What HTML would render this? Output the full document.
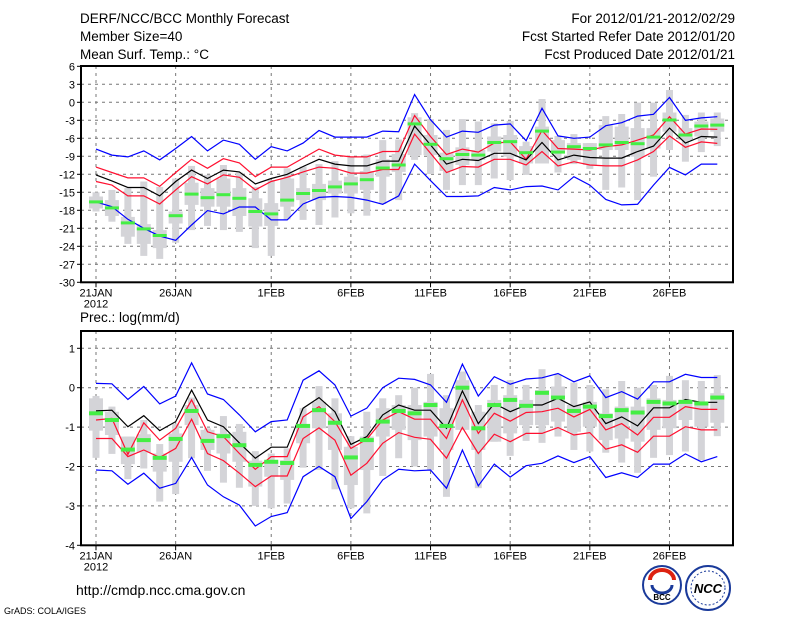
<!DOCTYPE html>
<html><head><meta charset="utf-8"><style>
html,body{margin:0;padding:0;background:#fff;width:800px;height:618px;overflow:hidden}
svg{display:block}
text{font-family:"Liberation Sans",sans-serif;fill:#000}
</style></head><body>
<svg id="chart" width="800" height="618" viewBox="0 0 800 618" xmlns="http://www.w3.org/2000/svg">
<text x="80" y="23" font-size="13.5">DERF/NCC/BCC Monthly Forecast</text>
<text x="80" y="41" font-size="13.5">Member Size=40</text>
<text x="80" y="59" font-size="13.5">Mean Surf. Temp.: °C</text>
<text x="735" y="23" font-size="13.5" text-anchor="end">For 2012/01/21-2012/02/29</text>
<text x="735" y="41" font-size="13.5" text-anchor="end">Fcst Started Refer Date 2012/01/20</text>
<text x="735" y="59" font-size="13.5" text-anchor="end">Fcst Produced Date 2012/01/21</text>
<text x="80" y="322" font-size="13.5">Prec.: log(mm/d)</text>
<text x="76" y="595" font-size="14">http://cmdp.ncc.cma.gov.cn</text>
<text x="4" y="614" font-size="9">GrADS: COLA/IGES</text>
<g>
<circle cx="662" cy="585" r="19" fill="#fff" stroke="#1a3a9a" stroke-width="2"/>
<path d="M650 580 a12 10 0 0 1 24 0" fill="none" stroke="#d21" stroke-width="4"/>
<path d="M652 585 a10 8 0 0 0 20 0" fill="none" stroke="#1a3a9a" stroke-width="3"/>
<text x="662" y="600" font-size="8" text-anchor="middle" font-weight="bold" fill="#1a3a9a">BCC</text>
</g>
<g>
<circle cx="708" cy="588" r="22" fill="#fff" stroke="#1a3a9a" stroke-width="2"/>
<ellipse cx="708" cy="588" rx="17" ry="17" fill="none" stroke="#1a3a9a" stroke-width="1" stroke-dasharray="2 2"/>
<text x="708" y="593" font-size="13" text-anchor="middle" font-style="italic" font-weight="bold" fill="#1a3a9a">NCC</text>
</g>
<g id="plots"></g>
</svg>
<script>
// ---- Temperature panel data (°C), days 0..39 from 21 Jan 2012 ----
const dayLabels = ["21JAN","26JAN","1FEB","6FEB","11FEB","16FEB","21FEB","26FEB"];
const dayLabelIdx = [0,5,11,16,21,26,31,36];
const tTicks = [6,3,0,-3,-6,-9,-12,-15,-18,-21,-24,-27,-30];
const tBlueHi = [-7.8,-8.8,-9.1,-8.1,-9.6,-7.7,-5.7,-8.1,-6.3,-7.0,-9.5,-7.4,-8.1,-6.8,-4.7,-5.8,-5.8,-5.8,-4.8,-4.9,1.3,-2.9,-5.8,-4.8,-5.0,-3.8,-3.6,-6.4,-1.0,-5.6,-6.0,-5.8,-3.9,-3.4,-2.3,-2.0,0.8,-3.0,-2.6,-2.4];
const tRedHi = [-10.8,-11.7,-12.6,-12.6,-14.0,-11.7,-9.5,-11.0,-9.4,-10.1,-12.4,-10.8,-10.8,-9.3,-7.8,-8.8,-9.1,-9.1,-8.2,-8.2,-2.2,-5.7,-8.7,-7.8,-8.3,-6.8,-6.6,-9.5,-4.7,-7.7,-7.8,-7.95,-7.4,-7.1,-6.3,-5.45,-2.4,-5.3,-4.45,-4.5];
const tMean = [-12.1,-13.1,-14.2,-14.2,-15.6,-13.2,-11.3,-12.7,-11.3,-11.6,-13.6,-12.7,-12.0,-10.7,-9.5,-10.3,-10.6,-10.6,-9.8,-9.8,-3.95,-7.1,-10.3,-9.5,-9.7,-8.5,-8.5,-9.6,-6.7,-9.6,-8.8,-9.2,-9.3,-9.3,-8.2,-7.3,-4.3,-6.8,-5.7,-5.8];
const tRedLo = [-13.2,-13.8,-15.6,-15.6,-16.95,-14.6,-12.4,-13.6,-12.1,-12.5,-14.6,-13.2,-12.5,-11.6,-10.8,-11.0,-11.8,-11.8,-11.2,-11.2,-5.3,-8.5,-11.7,-10.7,-10.8,-9.5,-9.5,-10.45,-8.2,-10.6,-9.9,-10.45,-10.6,-10.6,-9.6,-8.2,-5.6,-7.5,-6.6,-6.85];
const tBlueLo = [-16.6,-17.4,-19.5,-21.0,-22.3,-23.0,-20.45,-18.05,-18.6,-17.45,-17.45,-19.6,-19.6,-16.95,-15.85,-15.7,-15.85,-16.3,-17.0,-15.6,-10.3,-13.05,-15.7,-15.7,-15.6,-14.2,-14.6,-14.05,-13.95,-14.6,-12.4,-13.8,-16.2,-17.1,-17.0,-13.8,-10.85,-12.1,-10.3,-10.3];
const tMax = [-15.0,-14.6,-14.3,-13.2,-14.1,-12.7,-10.6,-12.1,-10.45,-11.7,-14.1,-12.95,-11.0,-10.7,-10.3,-9.8,-9.06,-8.7,-6.3,-6.2,-1.8,-2.8,-4.6,-2.8,-3.2,-3.5,-3.1,-6.56,0.55,-5.6,-5.3,-6.8,-2.3,-1.95,-0.06,-0.06,2.05,-2.1,-1.7,-1.7];
const tQ3 = [-15.7,-16.3,-19.1,-20.3,-21.3,-18.2,-13.4,-14.3,-12.7,-14.3,-16.0,-16.8,-12.7,-14.3,-13.6,-13.05,-12.4,-11.45,-9.5,-8.6,-2.5,-5.45,-8.4,-7.5,-7.95,-5.7,-5.45,-7.3,-4.05,-6.3,-6.8,-6.8,-3.8,-4.05,-4.3,-4.3,-1.7,-4.3,-3.2,-2.7];
const tQ1 = [-17.7,-18.95,-22.4,-23.6,-24.3,-20.2,-17.1,-17.4,-17.4,-18.95,-20.7,-20.6,-17.4,-16.3,-16.3,-15.2,-15.2,-14.6,-12.4,-11.6,-8.8,-8.8,-11.45,-10.45,-9.6,-8.2,-9.06,-10.2,-10.2,-8.2,-9.6,-10.45,-7.95,-7.95,-9.06,-7.7,-4.9,-6.3,-5.7,-4.9];
const tMin = [-18.2,-19.9,-23.6,-25.6,-26.1,-23.4,-21.3,-20.6,-21.3,-21.6,-24.3,-25.6,-19.5,-19.6,-20.45,-19.2,-18.5,-18.9,-16.95,-16.3,-9.6,-11.95,-14.6,-13.8,-13.8,-12.7,-12.95,-12.1,-10.2,-11.7,-10.3,-11.1,-14.6,-14.2,-16.3,-12.4,-7.95,-9.9,-8.3,-7.3];
const tObs = [-16.6,-17.6,-20.1,-21.1,-22.2,-18.9,-15.3,-15.9,-15.4,-16.0,-18.2,-18.6,-16.3,-15.2,-14.7,-14.1,-13.6,-12.9,-10.95,-10.45,-3.6,-7.0,-9.4,-8.7,-8.8,-6.7,-6.56,-8.4,-4.8,-8.3,-7.4,-7.7,-7.1,-6.7,-6.9,-5.8,-2.95,-5.45,-3.95,-3.8];
// ---- Precipitation panel data (log mm/d) ----
const pTicks = [1,0,-1,-2,-3,-4];
const pBlueHi = [0.11,0.10,-0.30,0.03,-0.41,-0.21,0.63,-0.16,-0.30,-0.69,-1.12,-0.86,-0.82,0.19,0.43,0.07,-0.72,-0.52,0.00,0.24,0.21,0.07,-0.37,0.60,-0.21,0.28,0.09,0.22,0.25,0.36,0.15,0.30,-0.25,-0.10,-0.29,0.15,0.15,0.34,0.26,0.26];
const pRedHi = [-0.82,-0.78,-1.69,-0.89,-1.33,-1.03,-0.31,-1.12,-1.24,-1.67,-2.07,-1.75,-1.75,-0.74,-0.48,-0.86,-1.54,-1.31,-0.82,-0.61,-0.80,-0.80,-1.29,-0.31,-1.16,-0.65,-0.85,-0.63,-0.61,-0.52,-0.74,-0.55,-1.07,-0.91,-1.20,-0.75,-0.75,-0.48,-0.55,-0.55];
const pMean = [-0.59,-0.57,-0.99,-0.71,-1.09,-0.86,-0.06,-0.82,-0.99,-1.40,-1.79,-1.51,-1.51,-0.52,-0.25,-0.61,-1.44,-1.24,-0.69,-0.44,-0.57,-0.57,-1.03,-0.08,-0.91,-0.40,-0.61,-0.44,-0.44,-0.27,-0.48,-0.36,-0.91,-0.74,-0.97,-0.51,-0.51,-0.30,-0.37,-0.37];
const pRedLo = [-1.29,-1.29,-1.75,-1.58,-1.77,-1.54,-0.80,-1.67,-1.85,-2.17,-2.51,-2.24,-2.24,-1.29,-1.02,-1.33,-2.22,-1.92,-1.41,-1.14,-1.26,-1.31,-1.79,-1.01,-1.67,-1.18,-1.37,-1.16,-1.16,-1.01,-1.20,-1.14,-1.56,-1.45,-1.64,-1.23,-1.23,-0.99,-1.07,-1.07];
const pBlueLo = [-2.09,-2.11,-2.45,-2.17,-2.55,-2.43,-1.77,-2.47,-2.77,-2.98,-3.51,-3.27,-3.17,-2.26,-2.00,-2.26,-3.32,-2.89,-2.34,-2.07,-2.11,-2.09,-2.55,-1.58,-2.49,-1.94,-2.27,-1.98,-1.92,-1.73,-1.90,-1.75,-2.28,-2.16,-2.28,-1.94,-1.94,-1.68,-1.88,-1.75];
const pMax = [-0.21,-0.48,-1.24,-0.82,-1.43,-0.91,-0.25,-1.03,-0.72,-0.92,-1.61,-1.67,-1.54,-0.52,0.04,-0.27,-1.23,-0.61,-0.27,-0.19,0.00,0.35,-0.19,0.41,-0.44,0.07,0.19,0.07,0.47,0.34,0.13,0.07,-0.04,0.17,0.00,0.07,0.30,0.19,0.17,0.32];
const pQ3 = [-0.27,-0.61,-1.24,-1.18,-1.67,-1.16,-0.44,-1.07,-1.16,-1.12,-1.85,-1.88,-1.84,-0.95,-0.36,-0.65,-1.50,-1.24,-0.52,-0.44,-0.44,-0.36,-0.52,0.19,-0.61,-0.31,-0.19,-0.31,-0.06,0.03,-0.44,-0.36,-0.65,-0.48,-0.48,-0.27,-0.31,-0.31,-0.36,-0.14];
const pQ1 = [-1.09,-1.20,-1.94,-1.65,-2.13,-1.88,-0.95,-1.58,-1.67,-1.88,-2.51,-2.26,-2.34,-1.41,-1.03,-1.58,-2.47,-2.09,-1.24,-1.07,-1.33,-1.24,-1.58,-1.07,-1.58,-1.37,-1.16,-0.95,-0.95,-0.86,-1.12,-0.99,-1.33,-1.29,-1.37,-1.07,-1.03,-0.82,-0.99,-0.89];
const pMin = [-1.78,-1.68,-2.32,-2.05,-2.89,-2.70,-1.79,-2.11,-2.41,-2.54,-3.00,-3.06,-2.94,-2.03,-2.09,-2.58,-3.06,-3.19,-2.24,-1.79,-2.00,-2.09,-2.77,-1.07,-2.55,-1.37,-1.73,-1.35,-1.40,-1.24,-1.58,-1.62,-1.65,-1.90,-2.16,-1.78,-1.71,-1.62,-1.84,-1.23];
const pObs = [-0.65,-0.82,-1.57,-1.33,-1.78,-1.30,-0.59,-1.35,-1.23,-1.46,-1.96,-1.88,-1.91,-0.97,-0.57,-0.89,-1.77,-1.33,-0.86,-0.59,-0.65,-0.44,-0.97,0.00,-1.03,-0.44,-0.31,-0.46,-0.13,-0.25,-0.59,-0.48,-0.72,-0.57,-0.63,-0.36,-0.40,-0.36,-0.40,-0.25];

const NS = "http://www.w3.org/2000/svg";
const root = document.getElementById("plots");
function mk(tag, attrs, parent){
  const e = document.createElementNS(NS, tag);
  for (const k in attrs) e.setAttribute(k, attrs[k]);
  (parent||root).appendChild(e);
  return e;
}
const xL = 81, xR = 733;
function xOf(d){ return 96 + 15.93*d; }

function panel(cfg){
  const g = mk("g", {});
  
  
  const y = cfg.y;
  // gridlines
  cfg.ticks.forEach(t=>{
    const yy = y(t);
    if (yy > cfg.top+1 && yy < cfg.bot-1){
      const l = mk("line",{x1:xL,x2:xR,y1:yy,y2:yy,stroke:"#777","stroke-width":1,"stroke-dasharray":"3 4"},g);
      
      
    }
    const tk = mk("line",{x1:xL-4,x2:xL,y1:yy,y2:yy,stroke:"#000"},g);
    
    
    const tx = mk("text",{x:xL-6,y:yy+4,"font-size":11,"text-anchor":"end"},g);
    tx.textContent = String(t);
    
    
  });
  dayLabelIdx.forEach((d,i)=>{
    const xx = xOf(d);
    const l = mk("line",{x1:xx,x2:xx,y1:cfg.top,y2:cfg.bot,stroke:"#777","stroke-width":1,"stroke-dasharray":"3 4"},g);
    
    
    const tk = mk("line",{x1:xx,x2:xx,y1:cfg.bot,y2:cfg.bot+5,stroke:"#000"},g);
    
    
    const tx = mk("text",{x:xx,y:cfg.bot+14,"font-size":11,"text-anchor":"middle"},g);
    tx.textContent = dayLabels[i];
    
    
  });
  const yr = mk("text",{x:xOf(0),y:cfg.bot+25,"font-size":11,"text-anchor":"middle"},g);
  yr.textContent = "2012";
  
  
  // boxes
  for (let d=0; d<cfg.max.length; d++){
    const xx = xOf(d);
    const w = mk("rect",{x:xx-3.5,y:y(cfg.max[d]),width:7,height:Math.max(1,y(cfg.min[d])-y(cfg.max[d])),fill:"#d4d4d8"},g);
    
    
    const b = mk("rect",{x:xx-7,y:y(cfg.q3[d]),width:14,height:Math.max(1,y(cfg.q1[d])-y(cfg.q3[d])),fill:"#d4d4d8"},g);
    
    
  }
  // lines
  const series = [[cfg.blueHi,"#0000ff","upper-bound-line"],[cfg.redHi,"#ff1030","upper-spread-line"],[cfg.mean,"#000000","ensemble-mean-line"],[cfg.redLo,"#ff1030","lower-spread-line"],[cfg.blueLo,"#0000ff","lower-bound-line"]];
  series.forEach(s=>{
    const pts = s[0].map((v,d)=>xOf(d).toFixed(1)+","+y(v).toFixed(1)).join(" ");
    const pl = mk("polyline",{points:pts,fill:"none",stroke:s[1],"stroke-width":1.2},g);
    
    
  });
  for (let d=0; d<cfg.obs.length; d++){
    const xx = xOf(d);
    const m = mk("rect",{x:xx-7,y:y(cfg.obs[d])-cfg.mh/2,width:14,height:cfg.mh,fill:"#44ee44"},g);
    
    
  }
  const fr = mk("rect",{x:xL,y:cfg.top,width:xR-xL,height:cfg.bot-cfg.top,fill:"none",stroke:"#000","stroke-width":2},g);
  
  
}
panel({name:"temperature-panel",top:66,bot:282.3,ticks:tTicks,y:v=>102.3-6*v,
  blueHi:tBlueHi,redHi:tRedHi,mean:tMean,redLo:tRedLo,blueLo:tBlueLo,max:tMax,q3:tQ3,q1:tQ1,min:tMin,obs:tObs,mh:3});
panel({name:"precipitation-panel",top:331,bot:545.3,ticks:pTicks,y:v=>387.7-39.4*v,
  blueHi:pBlueHi,redHi:pRedHi,mean:pMean,redLo:pRedLo,blueLo:pBlueLo,max:pMax,q3:pQ3,q1:pQ1,min:pMin,obs:pObs,mh:4});
</script>
</body></html>
